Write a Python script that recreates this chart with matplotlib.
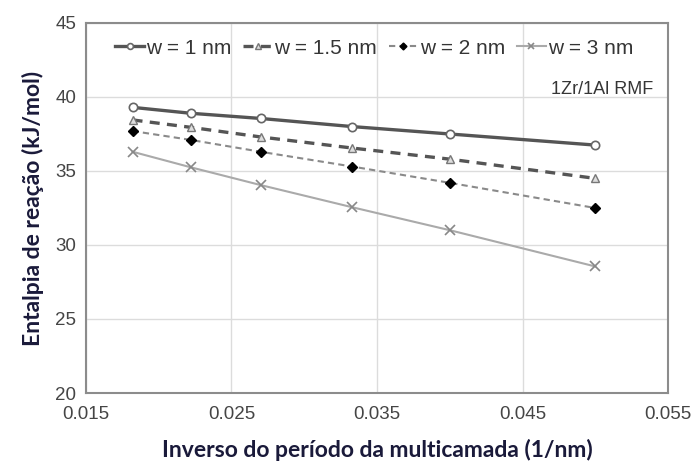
import matplotlib.pyplot as plt

# inverse multilayer period (1/nm)
inv_period = [0.0182, 0.0222, 0.0270, 0.0333, 0.0400, 0.0500]

# reaction enthalpy (kJ/mol) for each interface width
h_w1 = [39.3, 38.9, 38.55, 38.0, 37.5, 36.75]
h_w15 = [38.45, 37.95, 37.3, 36.55, 35.8, 34.5]
h_w2 = [37.7, 37.1, 36.3, 35.3, 34.2, 32.5]
h_w3 = [36.3, 35.25, 34.05, 32.55, 31.0, 28.55]

labels = ['w = 1 nm', 'w = 1.5 nm', 'w = 2 nm', 'w = 3 nm']
x_ticks = [0.015, 0.025, 0.035, 0.045, 0.055]
y_ticks = [20, 25, 30, 35, 40, 45]

plt.rcParams['font.family'] = ['Liberation Sans', 'DejaVu Sans']

fig = plt.figure(figsize=(6.99, 4.71), dpi=100)
ax = fig.add_axes([0.123, 0.1656, 0.8327, 0.7856])

ax.plot(inv_period, h_w1, color='#555555', lw=2.4, ls='-',
        marker='o', ms=6, mfc='white', mec='#666666', mew=1.2, label=labels[0])
ax.plot(inv_period, h_w15, color='#555555', lw=2.4, ls=(0, (3, 2.2)),
        marker='^', ms=6, mfc='#dddddd', mec='#777777', mew=1.0, label=labels[1])
ax.plot(inv_period, h_w2, color='#8a8a8a', lw=1.5, ls=(0, (3, 2)),
        marker='D', ms=5, mfc='black', mec='black', label=labels[2])
ax.plot(inv_period, h_w3, color='#aaaaaa', lw=1.5, ls='-',
        marker='x', ms=7, mec='#888888', mew=1.2, label=labels[3])

ax.set_xlim(0.015, 0.055)
ax.set_ylim(20, 45)
ax.set_xticks(x_ticks)
ax.set_yticks(y_ticks)
ax.set_xticklabels([f'{t:.3f}' for t in x_ticks])
ax.tick_params(length=0, labelsize=13.5, colors='#454545')
ax.tick_params(axis='y', pad=7)
ax.tick_params(axis='x', pad=9)
ax.grid(True, color='#dcdcdc', lw=1)
ax.set_axisbelow(True)
for s in ax.spines.values():
    s.set_color('#8c8c8c')
    s.set_linewidth(1.5)

ax.legend(loc='upper center', ncol=4, frameon=False, fontsize=15,
          handlelength=1.4, handletextpad=0.1, columnspacing=0.55,
          borderaxespad=0.35, labelcolor='#353535', markerscale=0.7,
          bbox_to_anchor=(0.495, 1.0))
ax.text(0.975, 0.82, '1Zr/1Al RMF', transform=ax.transAxes, ha='right',
        va='center', fontsize=13, color='#353535')

ax.set_xlabel('Inverso do período da multicamada (1/nm)', family='Lato',
              fontweight='bold', fontsize=16.5, color='#1a1a3a', labelpad=12)
ax.set_ylabel('Entalpia de reação (kJ/mol)', family='Lato',
              fontweight='bold', fontsize=16.5, color='#1a1a3a', labelpad=8)

fig.savefig('out.png', dpi=100)
